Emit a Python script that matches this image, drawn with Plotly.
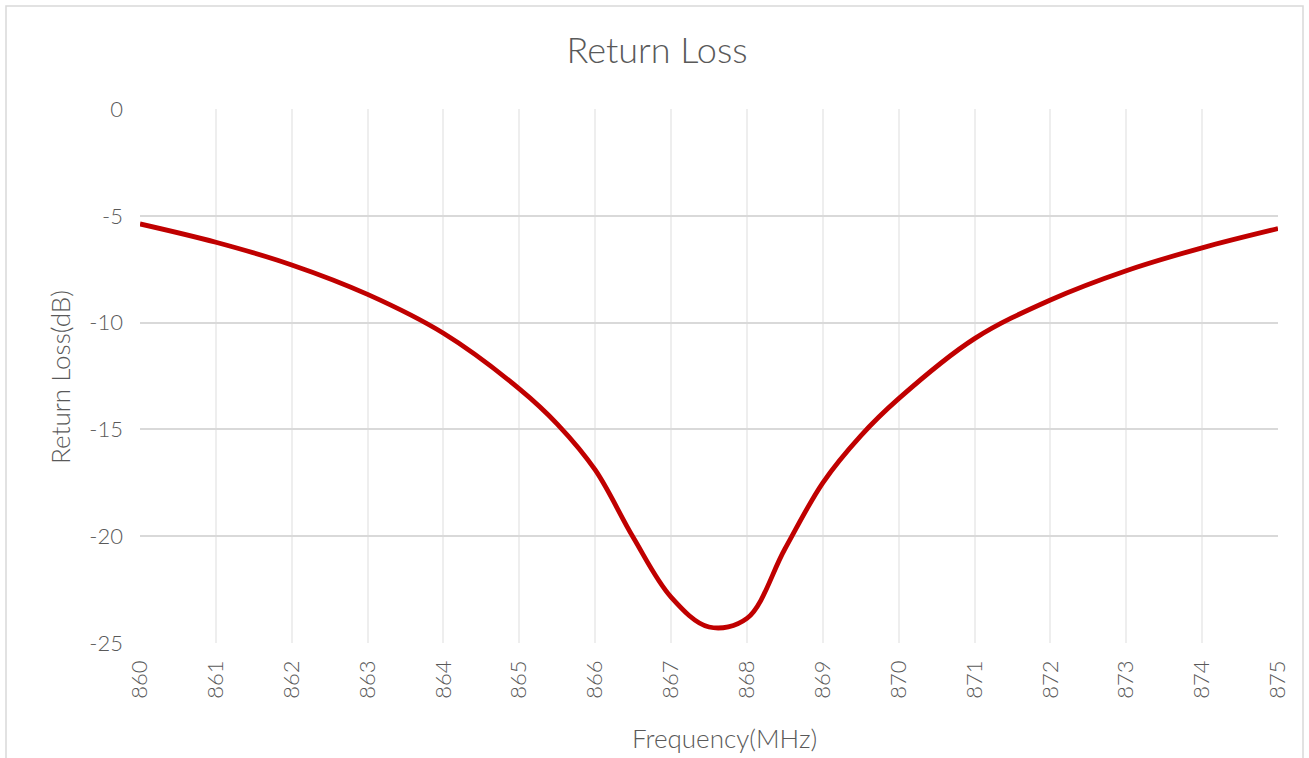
import plotly.graph_objects as go

freq_mhz = [860, 861, 862, 863, 864, 865, 865.5, 866, 866.5, 867, 867.5, 868, 868.5, 869, 869.5, 870, 871, 872, 873, 874, 875]
return_loss_db = [-5.38, -6.24, -7.30, -8.68, -10.5, -13.1, -14.75, -16.9, -20.05, -22.85, -24.25, -23.85, -20.6, -17.5, -15.3, -13.56, -10.75, -8.94, -7.57, -6.5, -5.6]
x_ticks = list(range(860, 876))
y_ticks = [0, -5, -10, -15, -20, -25]

W, H = 1309, 758
ml, mr, mt, mb = 140, 31, 109, 115
pw, ph = W - ml - mr, H - mt - mb

txt = "#595959"
font_family = "Lato, Noto Sans, DejaVu Sans, sans-serif"

fig = go.Figure()
fig.add_trace(go.Scatter(
    x=freq_mhz, y=return_loss_db, mode="lines",
    line=dict(color="#C00000", width=4.8, shape="spline", smoothing=1.0),
    showlegend=False, hoverinfo="x+y",
))

fig.update_layout(
    width=W, height=H,
    margin=dict(l=ml, r=mr, t=mt, b=mb, autoexpand=False),
    paper_bgcolor="white", plot_bgcolor="white",
    font=dict(family=font_family, color=txt, weight=300),
    title=dict(text="Return Loss", x=657 / W, xanchor="center", xref="container",
               y=1 - 50 / H, yanchor="middle",
               font=dict(size=36, color=txt, family=font_family, weight=300)),
    xaxis=dict(
        range=[860, 875], tickvals=x_ticks, ticktext=[str(v) for v in x_ticks],
        tickangle=-90, tickfont=dict(size=22, color=txt, weight=300),
        showgrid=True, gridcolor="#EEEEEE", gridwidth=1.5,
        zeroline=False, showline=False, ticks="", ticklen=0,
        ticklabelstandoff=12,
    ),
    yaxis=dict(
        range=[-25, 0], tickvals=y_ticks, ticktext=[str(v) for v in y_ticks],
        tickfont=dict(size=22, color=txt, weight=300),
        showgrid=True, gridcolor="#D9D9D9", gridwidth=1.5,
        zeroline=False, showline=False, ticks="", ticklen=0,
        ticklabelstandoff=16,
    ),
)

# axis titles placed as in the reference
fig.add_annotation(text="Frequency(MHz)", xref="paper", yref="paper",
                   x=(724 - ml) / pw, y=(H - mb - 738) / ph, xanchor="center", yanchor="middle",
                   showarrow=False, font=dict(size=26, color=txt, family=font_family, weight=300))
fig.add_annotation(text="Return Loss(dB)", xref="paper", yref="paper",
                   x=(60 - ml) / pw, y=(H - mb - 377) / ph, xanchor="center", yanchor="middle",
                   textangle=-90, showarrow=False,
                   font=dict(size=26, color=txt, family=font_family, weight=300))

# outer chart-area border
fig.add_shape(type="rect", xref="paper", yref="paper",
              x0=(6 - ml) / pw, x1=(1303 - ml) / pw,
              y0=(H - mb - 770) / ph, y1=(H - mb - 6) / ph,
              line=dict(color="#D9D9D9", width=1.5), fillcolor="rgba(0,0,0,0)", layer="below")

fig.write_html("out.html", config={"displayModeBar": False},
               post_script="document.body.style.margin='0px';")
